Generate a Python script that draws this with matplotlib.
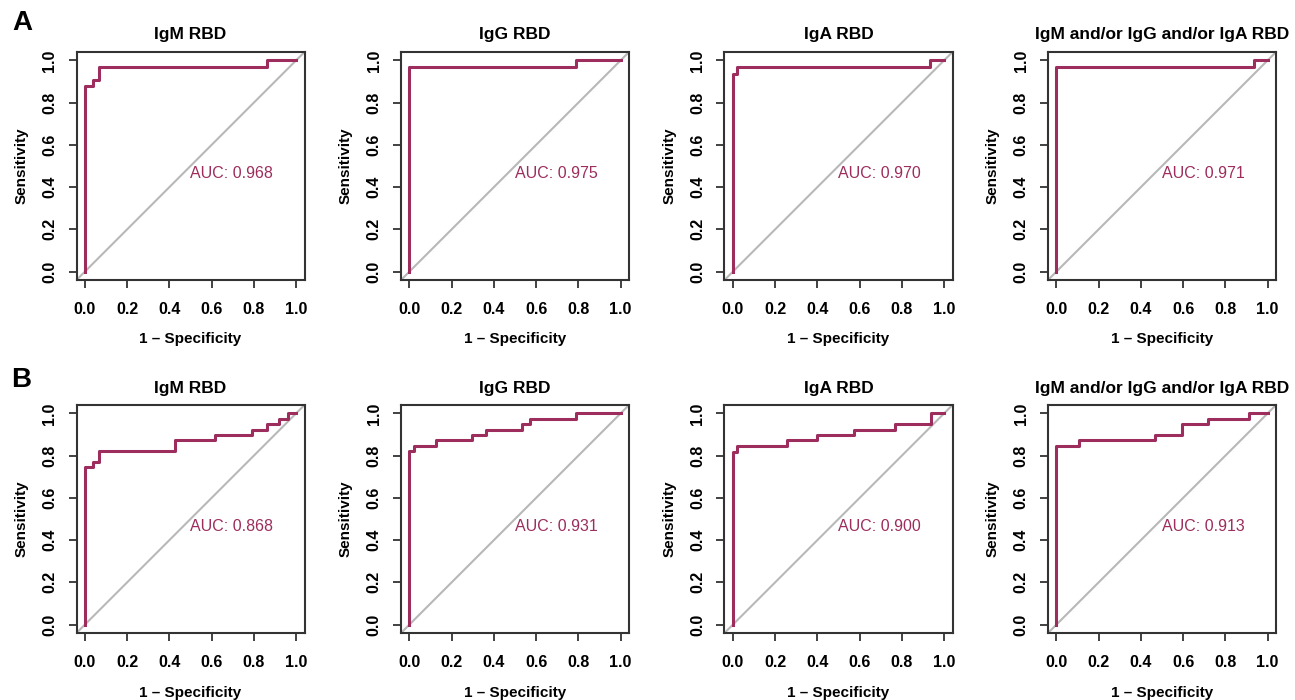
import matplotlib
matplotlib.use("Agg")
import matplotlib.pyplot as plt

plt.rcParams['font.family'] = ['Liberation Sans', 'DejaVu Sans']

titles = ["IgM RBD", "IgG RBD", "IgA RBD", "IgM and/or IgG and/or IgA RBD"]

# row A: (1 - specificity, sensitivity) corner points of each ROC curve
fpr_A = [
    [0, 0, 0.04, 0.04, 0.066, 0.066, 0.86, 0.86, 1.0],
    [0, 0, 0.788, 0.788, 1.0],
    [0, 0, 0.019, 0.019, 0.932, 0.932, 1.0],
    [0, 0, 0.936, 0.936, 1.0],
]
tpr_A = [
    [0, 0.879, 0.879, 0.909, 0.909, 0.970, 0.970, 1.0, 1.0],
    [0, 0.968, 0.968, 1.0, 1.0],
    [0, 0.935, 0.935, 0.968, 0.968, 1.0, 1.0],
    [0, 0.968, 0.968, 1.0, 1.0],
]
auc_A = ["0.968", "0.975", "0.970", "0.971"]

# row B
fpr_B = [
    [0, 0, 0.04, 0.04, 0.066, 0.066, 0.426, 0.426, 0.617, 0.617, 0.79, 0.79,
     0.861, 0.861, 0.918, 0.918, 0.962, 0.962, 1.0],
    [0, 0, 0.02, 0.02, 0.126, 0.126, 0.298, 0.298, 0.361, 0.361, 0.531, 0.531,
     0.57, 0.57, 0.788, 0.788, 1.0],
    [0, 0, 0.02, 0.02, 0.257, 0.257, 0.40, 0.40, 0.575, 0.575, 0.767, 0.767,
     0.937, 0.937, 1.0],
    [0, 0, 0.107, 0.107, 0.465, 0.465, 0.594, 0.594, 0.72, 0.72, 0.912, 0.912, 1.0],
]
tpr_B = [
    [0, 0.744, 0.744, 0.769, 0.769, 0.821, 0.821, 0.872, 0.872, 0.897, 0.897,
     0.923, 0.923, 0.949, 0.949, 0.974, 0.974, 1.0, 1.0],
    [0, 0.820, 0.820, 0.846, 0.846, 0.872, 0.872, 0.897, 0.897, 0.923, 0.923,
     0.949, 0.949, 0.974, 0.974, 1.0, 1.0],
    [0, 0.818, 0.818, 0.846, 0.846, 0.872, 0.872, 0.897, 0.897, 0.923, 0.923,
     0.949, 0.949, 1.0, 1.0],
    [0, 0.846, 0.846, 0.872, 0.872, 0.897, 0.897, 0.949, 0.949, 0.974, 0.974, 1.0, 1.0],
]
auc_B = ["0.868", "0.931", "0.900", "0.913"]

ticks = [0.0, 0.2, 0.4, 0.6, 0.8, 1.0]
roc_col = "#9C2D5C"

fig = plt.figure(figsize=(12.95, 7.0), dpi=100)

lefts = [76.5, 401, 724.5, 1048]
rows = [(280, fpr_A, tpr_A, auc_A), (633, fpr_B, tpr_B, auc_B)]
W, H = 1295.0, 700.0

for bottom_px, fprs, tprs, aucs in rows:
    for i in range(4):
        ax = fig.add_axes([lefts[i] / W, (H - bottom_px) / H, 228 / W, 228 / H])
        ax.axline((0, 0), (1, 1), color="#B8B8B8", lw=1.5, zorder=1)
        ax.plot(fprs[i], tprs[i], color=roc_col, lw=2.2, zorder=2)
        ax.text(0.5, 0.5, "AUC: " + aucs[i], color=roc_col, fontsize=11.5,
                ha="left", va="top")
        ax.set_xlim(-0.04, 1.04)
        ax.set_ylim(-0.04, 1.04)
        ax.set_xticks(ticks)
        ax.set_yticks(ticks)
        ax.set_xticklabels(["%.1f" % t for t in ticks], fontsize=11.5, fontweight="bold")
        ax.set_yticklabels(["%.1f" % t for t in ticks], fontsize=11.5, fontweight="bold",
                           rotation=90, va="center")
        ax.tick_params(direction="out", length=6, width=1.3, color="#333333")
        ax.tick_params(axis="x", pad=10)
        ax.tick_params(axis="y", pad=8)
        for s in ax.spines.values():
            s.set_color("#333333")
            s.set_linewidth(1.5)
        ax.set_xlabel("1 \u2013 Specificity", fontsize=11, fontweight="bold", labelpad=11)
        ax.set_ylabel("Sensitivity", fontsize=11, fontweight="bold", labelpad=10)
        ax.set_title(titles[i], fontsize=12.5, fontweight="bold", pad=9)

fig.text(22 / W, 1 - 23 / H, "A", fontsize=20, fontweight="bold", ha="center", va="center")
fig.text(21 / W, 1 - 380 / H, "B", fontsize=20, fontweight="bold", ha="center", va="center")

fig.savefig("out.png", dpi=100)
